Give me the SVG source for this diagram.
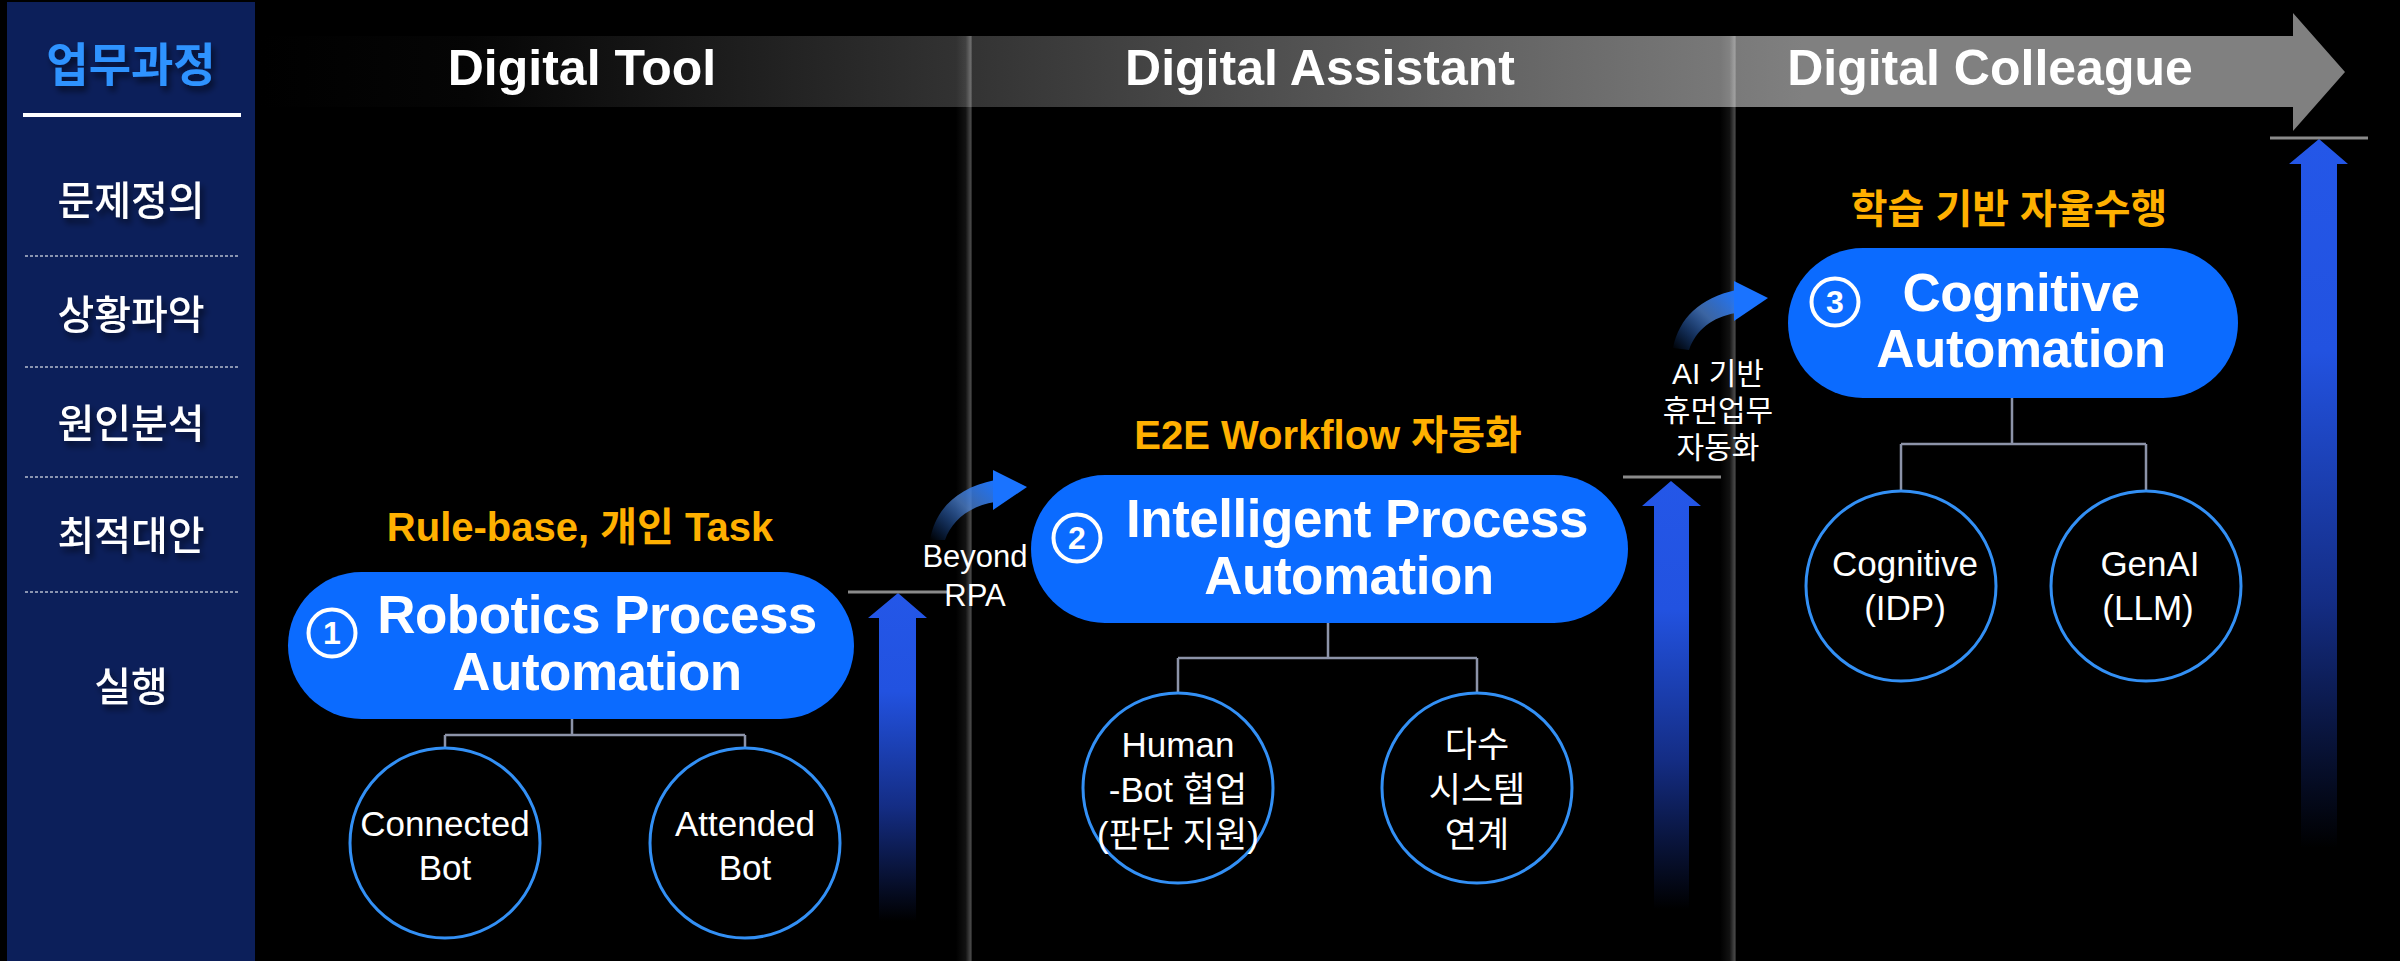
<svg xmlns="http://www.w3.org/2000/svg" width="2400" height="961" viewBox="0 0 2400 961">
  <defs>
    <linearGradient id="barGrad" gradientUnits="userSpaceOnUse" x1="260" y1="0" x2="2345" y2="0">
      <stop offset="0" stop-color="#000000"/>
      <stop offset="0.1" stop-color="#050505"/>
      <stop offset="0.74" stop-color="#808080"/>
      <stop offset="1" stop-color="#808080"/>
    </linearGradient>
    <linearGradient id="upGrad" x1="0" y1="0" x2="0" y2="1">
      <stop offset="0" stop-color="#2457e8"/>
      <stop offset="0.3" stop-color="#2252e0"/>
      <stop offset="0.65" stop-color="#142d85"/>
      <stop offset="1" stop-color="#000000"/>
    </linearGradient>
    <linearGradient id="curveGrad" x1="0" y1="1" x2="1" y2="0">
      <stop offset="0" stop-color="#1a73ff" stop-opacity="0"/>
      <stop offset="0.55" stop-color="#4f86d8" stop-opacity="0.75"/>
      <stop offset="1" stop-color="#1a73ff"/>
    </linearGradient>
    <linearGradient id="divGrad" x1="0" y1="0" x2="1" y2="0">
      <stop offset="0" stop-color="#ffffff" stop-opacity="0"/>
      <stop offset="0.6" stop-color="#ffffff" stop-opacity="0.07"/>
      <stop offset="0.9" stop-color="#ffffff" stop-opacity="0.28"/>
      <stop offset="1" stop-color="#ffffff" stop-opacity="0.12"/>
    </linearGradient>
    <filter id="ts" x="-20%" y="-30%" width="140%" height="170%">
      <feDropShadow dx="3" dy="5" stdDeviation="3" flood-color="#000000" flood-opacity="0.55"/>
    </filter>
    <style>
      .side { font-family: "Noto Sans CJK KR", "Liberation Sans", sans-serif; font-size: 40px; font-weight: 500; fill: #ffffff; text-anchor: middle; }
      .title { font-family: "Noto Sans CJK KR", "Liberation Sans", sans-serif; font-size: 46px; font-weight: 700; fill: #2f93ff; text-anchor: middle; }
      .dash { stroke: #8a94b0; stroke-width: 2; stroke-dasharray: 3 2; }
      .stage { font-family: "Liberation Sans", "Noto Sans CJK KR", sans-serif; font-size: 50px; font-weight: 700; fill: #ffffff; text-anchor: middle; }
      .orange { font-family: "Liberation Sans", "Noto Sans CJK KR", sans-serif; font-size: 40px; font-weight: 700; fill: #ffb000; text-anchor: middle; }
      .pill { fill: #0b6bff; }
      .ptxt { font-family: "Liberation Sans", "Noto Sans CJK KR", sans-serif; font-size: 53px; font-weight: 700; fill: #ffffff; text-anchor: middle; letter-spacing: -0.5px; }
      .num { fill: none; stroke: #ffffff; stroke-width: 4; }
      .numt { font-family: "Liberation Sans", sans-serif; font-size: 32px; font-weight: 700; fill: #ffffff; text-anchor: middle; }
      .leaf { fill: #000000; stroke: #3390f5; stroke-width: 3; }
      .ltxt { font-family: "Liberation Sans", "Noto Sans CJK KR", sans-serif; font-size: 35px; fill: #ffffff; text-anchor: middle; }
      .note { font-family: "Liberation Sans", "Noto Sans CJK KR", sans-serif; font-size: 31px; fill: #ffffff; text-anchor: middle; }
      .conn { fill: none; stroke: #8c93a8; stroke-width: 2.5; }
      .cap { stroke: #8a8a8a; stroke-width: 3; }
      .up { fill: url(#upGrad); }
      .curve { fill: url(#curveGrad); }
      .head { fill: #1a73ff; }
      .div { fill: url(#divGrad); }
    </style>
  </defs>

  <rect x="0" y="0" width="2400" height="961" fill="#000000"/>

  <!-- sidebar -->
  <g id="sidebar">
    <rect x="7" y="2" width="248" height="959" fill="#0c1f5a"/>
    <text class="title" x="131" y="81" filter="url(#ts)">업무과정</text>
    <line x1="23" y1="115" x2="241" y2="115" stroke="#ffffff" stroke-width="4"/>
    <text class="side" x="131" y="215" filter="url(#ts)">문제정의</text>
    <line class="dash" x1="25" y1="256" x2="239" y2="256"/>
    <text class="side" x="131" y="329" filter="url(#ts)">상황파악</text>
    <line class="dash" x1="25" y1="367" x2="239" y2="367"/>
    <text class="side" x="131" y="438" filter="url(#ts)">원인분석</text>
    <line class="dash" x1="25" y1="477" x2="239" y2="477"/>
    <text class="side" x="131" y="550" filter="url(#ts)">최적대안</text>
    <line class="dash" x1="25" y1="592" x2="239" y2="592"/>
    <text class="side" x="131" y="701" filter="url(#ts)">실행</text>
  </g>

  <!-- timeline bar -->
  <g id="timeline">
    <path d="M260,36 H2293 V13 L2345,72 L2293,131 V107 H260 Z" fill="url(#barGrad)"/>
    <text class="stage" x="582" y="85">Digital Tool</text>
    <text class="stage" x="1320" y="85">Digital Assistant</text>
    <text class="stage" x="1990" y="85">Digital Colleague</text>
  </g>

  <!-- column dividers -->
  <g id="dividers">
    <rect class="div" x="956" y="36" width="16" height="925"/>
    <rect class="div" x="1720" y="36" width="16" height="925"/>
  </g>

  <!-- connectors and arrows -->
  <g id="connectors">
    <path class="conn" d="M572,719 V735 M445,735 H745 M445,735 V748 M745,735 V748"/>
    <path class="conn" d="M1328,623 V658 M1178,658 H1477 M1178,658 V693 M1477,658 V693"/>
    <path class="conn" d="M2012,398 V444 M1901,444 H2146 M1901,444 V491 M2146,444 V491"/>

    <path class="up" d="M898,593 L927,618 L916,618 L916,921 L879,921 L879,618 L868,618 Z"/>
    <line class="cap" x1="848" y1="592" x2="947" y2="592"/>
    <path class="up" d="M1671,481 L1701,506 L1689,506 L1689,909 L1654,909 L1654,506 L1642,506 Z"/>
    <line class="cap" x1="1623" y1="477" x2="1721" y2="477"/>
    <path class="up" d="M2319,139 L2348,164 L2337,164 L2337,848 L2301,848 L2301,164 L2289,164 Z"/>
    <line class="cap" x1="2270" y1="138" x2="2368" y2="138"/>

    <path class="curve" d="M930,540 C935,510 956,488 995,480 L995,502 C970,506 952,520 945,540 Z"/>
    <polygon class="head" points="993,470 1027,487 993,510"/>
    <path class="curve" d="M1673,348 C1679,318 1700,298 1736,290 L1736,313 C1712,317 1696,330 1689,350 Z"/>
    <polygon class="head" points="1734,281 1768,298 1734,321"/>
  </g>

  <!-- labels between stages -->
  <g id="beyond-label">
    <text class="note" x="975" y="567">Beyond</text>
    <text class="note" x="975" y="606">RPA</text>
  </g>
  <g id="ai-label">
    <text class="note" x="1718" y="384" style="font-size:30px">AI 기반</text>
    <text class="note" x="1718" y="421" style="font-size:30px">휴먼업무</text>
    <text class="note" x="1718" y="458" style="font-size:30px">자동화</text>
  </g>

  <!-- stage 1 -->
  <g id="rpa">
    <text class="orange" x="580" y="541">Rule-base, 개인 Task</text>
    <rect class="pill" x="288" y="572" width="566" height="147" rx="73.5"/>
    <circle class="num" cx="332" cy="633" r="23.5"/>
    <text class="numt" x="332" y="644">1</text>
    <text class="ptxt" x="597" y="633">Robotics Process</text>
    <text class="ptxt" x="597" y="690">Automation</text>
  </g>
  <g id="connected-bot">
    <circle class="leaf" cx="445" cy="843" r="95"/>
    <text class="ltxt" x="445" y="836">Connected</text>
    <text class="ltxt" x="445" y="880">Bot</text>
  </g>
  <g id="attended-bot">
    <circle class="leaf" cx="745" cy="843" r="95"/>
    <text class="ltxt" x="745" y="836">Attended</text>
    <text class="ltxt" x="745" y="880">Bot</text>
  </g>

  <!-- stage 2 -->
  <g id="ipa">
    <text class="orange" x="1328" y="449">E2E Workflow 자동화</text>
    <rect class="pill" x="1031" y="475" width="597" height="148" rx="74"/>
    <circle class="num" cx="1077" cy="538" r="23.5"/>
    <text class="numt" x="1077" y="549">2</text>
    <text class="ptxt" x="1357" y="537">Intelligent Process</text>
    <text class="ptxt" x="1349" y="594">Automation</text>
  </g>
  <g id="human-bot">
    <circle class="leaf" cx="1178" cy="788" r="95"/>
    <text class="ltxt" x="1178" y="757">Human</text>
    <text class="ltxt" x="1178" y="802">-Bot 협업</text>
    <text class="ltxt" x="1178" y="847">(판단 지원)</text>
  </g>
  <g id="multi-system">
    <circle class="leaf" cx="1477" cy="788" r="95"/>
    <text class="ltxt" x="1477" y="757">다수</text>
    <text class="ltxt" x="1477" y="802">시스템</text>
    <text class="ltxt" x="1477" y="847">연계</text>
  </g>

  <!-- stage 3 -->
  <g id="cognitive">
    <text class="orange" x="2009" y="223">학습 기반 자율수행</text>
    <rect class="pill" x="1788" y="248" width="450" height="150" rx="75"/>
    <circle class="num" cx="1835" cy="302" r="23.5"/>
    <text class="numt" x="1835" y="313">3</text>
    <text class="ptxt" x="2021" y="311">Cognitive</text>
    <text class="ptxt" x="2021" y="367">Automation</text>
  </g>
  <g id="cognitive-idp">
    <circle class="leaf" cx="1901" cy="586" r="95"/>
    <text class="ltxt" x="1905" y="576">Cognitive</text>
    <text class="ltxt" x="1905" y="620">(IDP)</text>
  </g>
  <g id="genai-llm">
    <circle class="leaf" cx="2146" cy="586" r="95"/>
    <text class="ltxt" x="2150" y="576">GenAI</text>
    <text class="ltxt" x="2148" y="620">(LLM)</text>
  </g>
</svg>
